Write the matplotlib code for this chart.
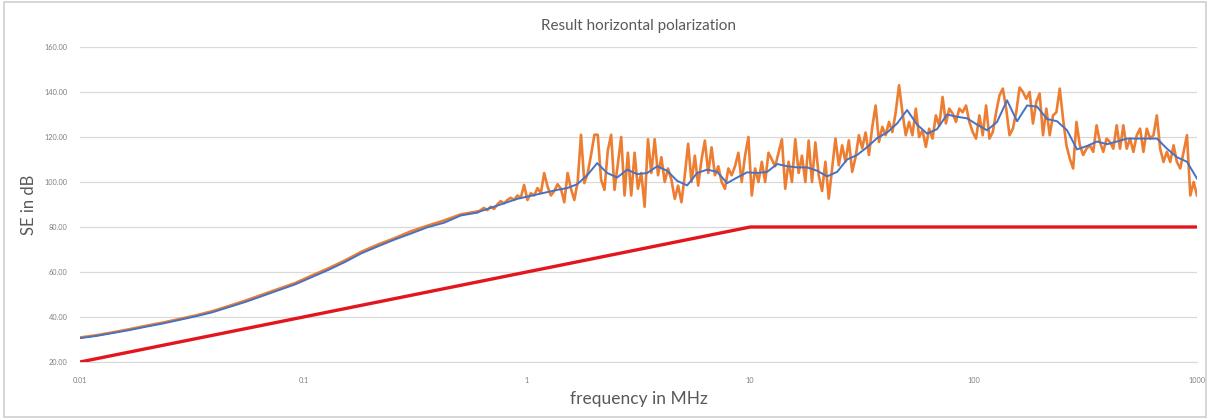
import numpy as np
import matplotlib
matplotlib.use('Agg')
import matplotlib.pyplot as plt
from matplotlib.patches import Rectangle

# smooth part, 0.01 .. 0.6 MHz
freq_lo_start = 0.01
freq_split = 0.6
freq_end = 1000

measured_lo = [30.9, 31.9, 33.2, 34.6, 36.1, 37.5, 39.1, 40.7, 42.6, 44.9,
               47.3, 49.9, 52.5, 55.1, 58.4, 61.6, 65.1, 69.0, 72.2, 75.0,
               78.1, 80.6, 82.9, 85.6, 86.9]
average_lo = [30.6, 31.6, 32.9, 34.2, 35.7, 37.1, 38.7, 40.3, 42.1, 44.4,
              46.7, 49.3, 51.9, 54.5, 57.7, 60.9, 64.4, 68.3, 71.4, 74.4,
              77.1, 79.9, 81.9, 85.1, 86.4]

# noisy part, 0.6 .. 1000 MHz
measured_hi = [
    86.5, 87.5, 88.5, 87.5, 89.0, 88.0, 90.0, 91.5, 90.5, 92.0,
    93.0, 92.0, 94.0, 93.0, 98.7, 92.0, 95.0, 94.0, 97.3, 95.0,
    104.0, 98.0, 94.0, 96.0, 99.0, 97.0, 91.0, 104.0, 97.0, 92.0,
    100.0, 121.0, 99.5, 104.0, 112.0, 121.0, 121.0, 101.0, 96.5, 114.0,
    121.0, 96.5, 108.0, 120.0, 94.0, 113.0, 94.0, 113.0, 97.0, 104.0,
    89.0, 119.0, 104.0, 119.0, 103.0, 111.0, 100.0, 106.0, 101.0, 92.5,
    98.4, 91.0, 103.0, 117.0, 100.0, 111.7, 98.4, 110.0, 118.4, 104.0,
    115.4, 103.0, 107.0, 100.0, 97.0, 106.0, 103.0, 107.0, 113.0, 100.0,
    111.7, 120.0, 94.0, 106.0, 100.0, 109.0, 100.0, 113.0, 110.0, 107.0,
    113.0, 119.0, 97.0, 109.0, 100.0, 119.0, 104.0, 111.7, 100.0, 118.4,
    100.0, 117.6, 103.0, 96.0, 109.0, 92.6, 106.0, 119.3, 107.4, 116.3,
    109.0, 118.5, 104.5, 111.0, 120.8, 115.0, 122.0, 112.0, 124.5, 134.0,
    117.8, 124.5, 120.8, 126.7, 122.2, 131.0, 143.0, 131.0, 120.8, 126.7,
    120.8, 132.6, 120.0, 123.0, 115.6, 123.7, 119.3, 129.6, 125.0, 137.8,
    126.0, 132.6, 130.4, 126.7, 132.6, 131.0, 134.0, 126.7, 122.2, 119.3,
    129.6, 120.8, 134.0, 119.3, 122.2, 131.0, 138.5, 141.5, 132.6, 120.8,
    123.7, 131.0, 142.0, 140.0, 137.0, 140.0, 126.0, 135.6, 139.3, 120.8,
    132.6, 120.8, 129.6, 131.0, 141.5, 128.0, 116.3, 110.4, 106.0, 126.7,
    116.3, 112.0, 114.8, 116.3, 113.4, 125.2, 117.8, 113.4, 119.3, 117.8,
    114.8, 125.2, 114.8, 125.2, 114.8, 119.3, 113.4, 120.8, 123.7, 113.4,
    123.7, 119.3, 120.8, 129.6, 114.8, 108.9, 113.4, 108.9, 116.3, 108.9,
    106.0, 113.4, 120.8, 94.0, 100.0, 94.0]

average_hi = [
    86.5, 88.0, 89.5, 91.0, 92.5, 93.5, 94.5, 95.5, 96.5, 97.3,
    99.0, 103.0, 108.4, 104.0, 102.0, 105.5, 103.5, 104.0, 107.0, 105.0,
    100.5, 98.5, 104.0, 105.5, 104.5, 99.5, 102.0, 104.3, 104.0, 104.5,
    108.0, 107.0, 106.5, 106.5, 105.0, 102.5, 104.5, 110.0, 112.0, 115.5,
    119.5, 122.0, 126.0, 132.0, 125.5, 121.5, 123.5, 130.0, 129.0, 128.3,
    125.5, 123.0, 126.7, 136.3, 127.0, 134.0, 133.5, 128.0, 127.0, 123.0,
    114.5, 116.0, 118.0, 116.8, 118.0, 119.3, 119.3, 119.3, 119.3, 114.8,
    111.0, 109.0, 101.5]

# limit line
limit_freq = [0.01, 10, 1000]
limit_db = [20, 80, 80]

y_ticks = [20, 40, 60, 80, 100, 120, 140, 160]
x_ticks = [0.01, 0.1, 1, 10, 100, 1000]
x_tick_labels = ['0.01', '0.1', '1', '10', '100', '1000']

f_lo = np.logspace(np.log10(freq_lo_start), np.log10(freq_split), len(measured_lo))
f_meas = np.logspace(np.log10(freq_split), np.log10(freq_end), len(measured_hi))
f_avg = np.logspace(np.log10(freq_split), np.log10(freq_end), len(average_hi))

plt.rcParams['font.family'] = ['Lato', 'DejaVu Sans']

fig = plt.figure(figsize=(12.1, 4.19), dpi=100)
fig.patches.append(Rectangle((0.003, 0.005), 0.994, 0.99, transform=fig.transFigure,
                             fill=False, edgecolor='#d0d0d0', linewidth=1.2))
ax = fig.add_axes([80 / 1210, 1 - 362 / 419, (1197 - 80) / 1210, (362 - 47) / 419])

ax.plot(np.concatenate([f_lo, f_meas]), measured_lo + measured_hi,
        color='#ed7d31', linewidth=1.9, zorder=3)
ax.plot(np.concatenate([f_lo, f_avg]), average_lo + average_hi,
        color='#4472c4', linewidth=1.4, zorder=4)
ax.plot(limit_freq, limit_db, color='#e3161e', linewidth=2.4, zorder=5)

ax.set_xscale('log')
ax.set_xlim(0.01, 1000)
ax.set_ylim(20, 160)
ax.set_yticks(y_ticks)
ax.set_yticklabels(['%.2f' % v for v in y_ticks])
ax.set_xticks(x_ticks)
ax.set_xticklabels(x_tick_labels)
ax.minorticks_off()
ax.tick_params(axis='both', length=0, labelsize=5.3, labelcolor='#808080')
ax.tick_params(axis='x', pad=11)
ax.tick_params(axis='y', pad=9)

ax.grid(axis='y', color='#d9d9d9', linewidth=0.9)
ax.set_axisbelow(True)
for side in ['top', 'right', 'left']:
    ax.spines[side].set_visible(False)
ax.spines['bottom'].set_color('#d9d9d9')

ax.set_title('Result horizontal polarization', fontsize=11, color='#595959', pad=12)
ax.set_xlabel('frequency in MHz', fontsize=12.5, color='#595959', labelpad=5)
ax.set_ylabel('SE in dB', fontsize=12, color='#595959', labelpad=5)

fig.savefig('out.png', dpi=100)
